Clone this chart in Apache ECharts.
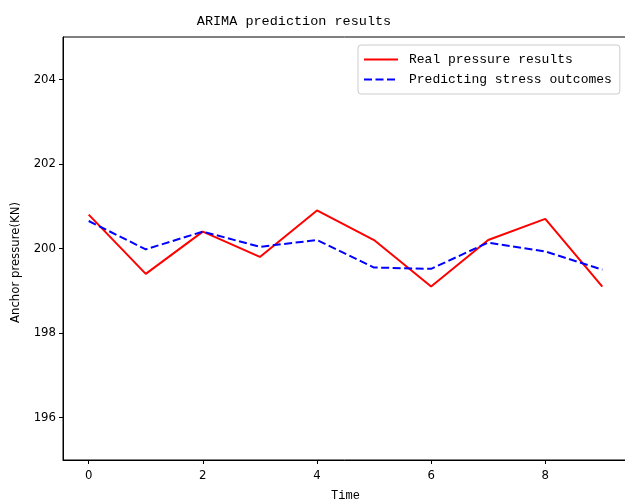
<!DOCTYPE html>
<html>
<head>
<meta charset="utf-8">
<script src="https://cdn.jsdelivr.net/npm/echarts@6/dist/echarts.min.js"></script>
<style>
  html, body { margin: 0; padding: 0; background: #fff; }
  #chart { width: 625px; height: 503px; }
</style>
</head>
<body>
<div id="chart"></div>
<script>
// time steps 0..9
const timeSteps = [0, 1, 2, 3, 4, 5, 6, 7, 8, 9]
const realPressure = [200.8, 199.4, 200.4, 199.8, 200.9, 200.2, 199.1, 200.2, 200.7, 199.1]
const predicted = [200.65, 199.98, 200.4, 200.04, 200.2, 199.55, 199.52, 200.14, 199.93, 199.5]
const xTicks = [0, 2, 4, 6, 8]
const yTicks = [196, 198, 200, 202, 204]

const mono = 'Liberation Mono'
const sans = 'DejaVu Sans Condensed, DejaVu Sans'

const chart = echarts.init(document.getElementById('chart'))

const pairs = (ys) => timeSteps.map((t, i) => [t, ys[i]])

chart.setOption({
  animation: false,
  backgroundColor: '#fff',
  title: {
    text: 'ARIMA prediction results',
    left: 289,
    top: 9,
    textAlign: 'center',
    textStyle: { fontFamily: mono, fontSize: 13.5, fontWeight: 'normal', color: '#000' },
  },
  legend: {
    orient: 'vertical',
    left: 358,
    top: 45,
    padding: [8, 8, 8, 5],
    itemGap: 7,
    itemWidth: 34,
    itemHeight: 14,
    borderColor: '#ccc',
    borderWidth: 1,
    borderRadius: 3,
    backgroundColor: '#fff',
    itemStyle: { opacity: 0 },
    textStyle: { fontFamily: mono, fontSize: 13, color: '#000', padding: [0, 0, 0, 6] },
    data: ['Real pressure results', 'Predicting stress outcomes'],
  },
  grid: {
    left: 63,
    right: -3,
    top: 37,
    bottom: 43,
    outerBoundsMode: 'none',
    containLabel: false,
    show: true,
    borderColor: '#000',
    borderWidth: 1,
  },
  xAxis: {
    type: 'value',
    min: -0.45,
    max: 9.45,
    name: 'Time',
    nameLocation: 'middle',
    nameGap: 30,
    nameTextStyle: { fontFamily: mono, fontSize: 12, color: '#000' },
    axisLine: { show: true, onZero: false, lineStyle: { color: '#000' } },
    axisTick: { show: true, length: 4, customValues: xTicks, lineStyle: { color: '#000' } },
    axisLabel: { customValues: xTicks, fontFamily: sans, fontSize: 13, color: '#000', margin: 9 },
    splitLine: { show: false },
  },
  yAxis: {
    type: 'value',
    min: 195,
    max: 205,
    name: 'Anchor pressure(KN)',
    nameLocation: 'middle',
    nameGap: 41,
    nameTextStyle: { fontFamily: sans, fontSize: 13, color: '#000', padding: [0, 28, 0, 0] },
    axisLine: { show: true, onZero: false, lineStyle: { color: '#000' } },
    axisTick: { show: true, length: 4, customValues: yTicks, lineStyle: { color: '#000' } },
    axisLabel: { customValues: yTicks, fontFamily: sans, fontSize: 13, color: '#000', margin: 7 },
    splitLine: { show: false },
  },
  series: [
    {
      name: 'Real pressure results',
      type: 'line',
      data: pairs(realPressure),
      symbol: 'none',
      color: '#ff0000',
      lineStyle: { color: '#ff0000', width: 2 },
    },
    {
      name: 'Predicting stress outcomes',
      type: 'line',
      data: pairs(predicted),
      symbol: 'none',
      color: '#0000ff',
      lineStyle: { color: '#0000ff', width: 2, type: [8, 3.5] },
    },
  ],
})
</script>
</body>
</html>
